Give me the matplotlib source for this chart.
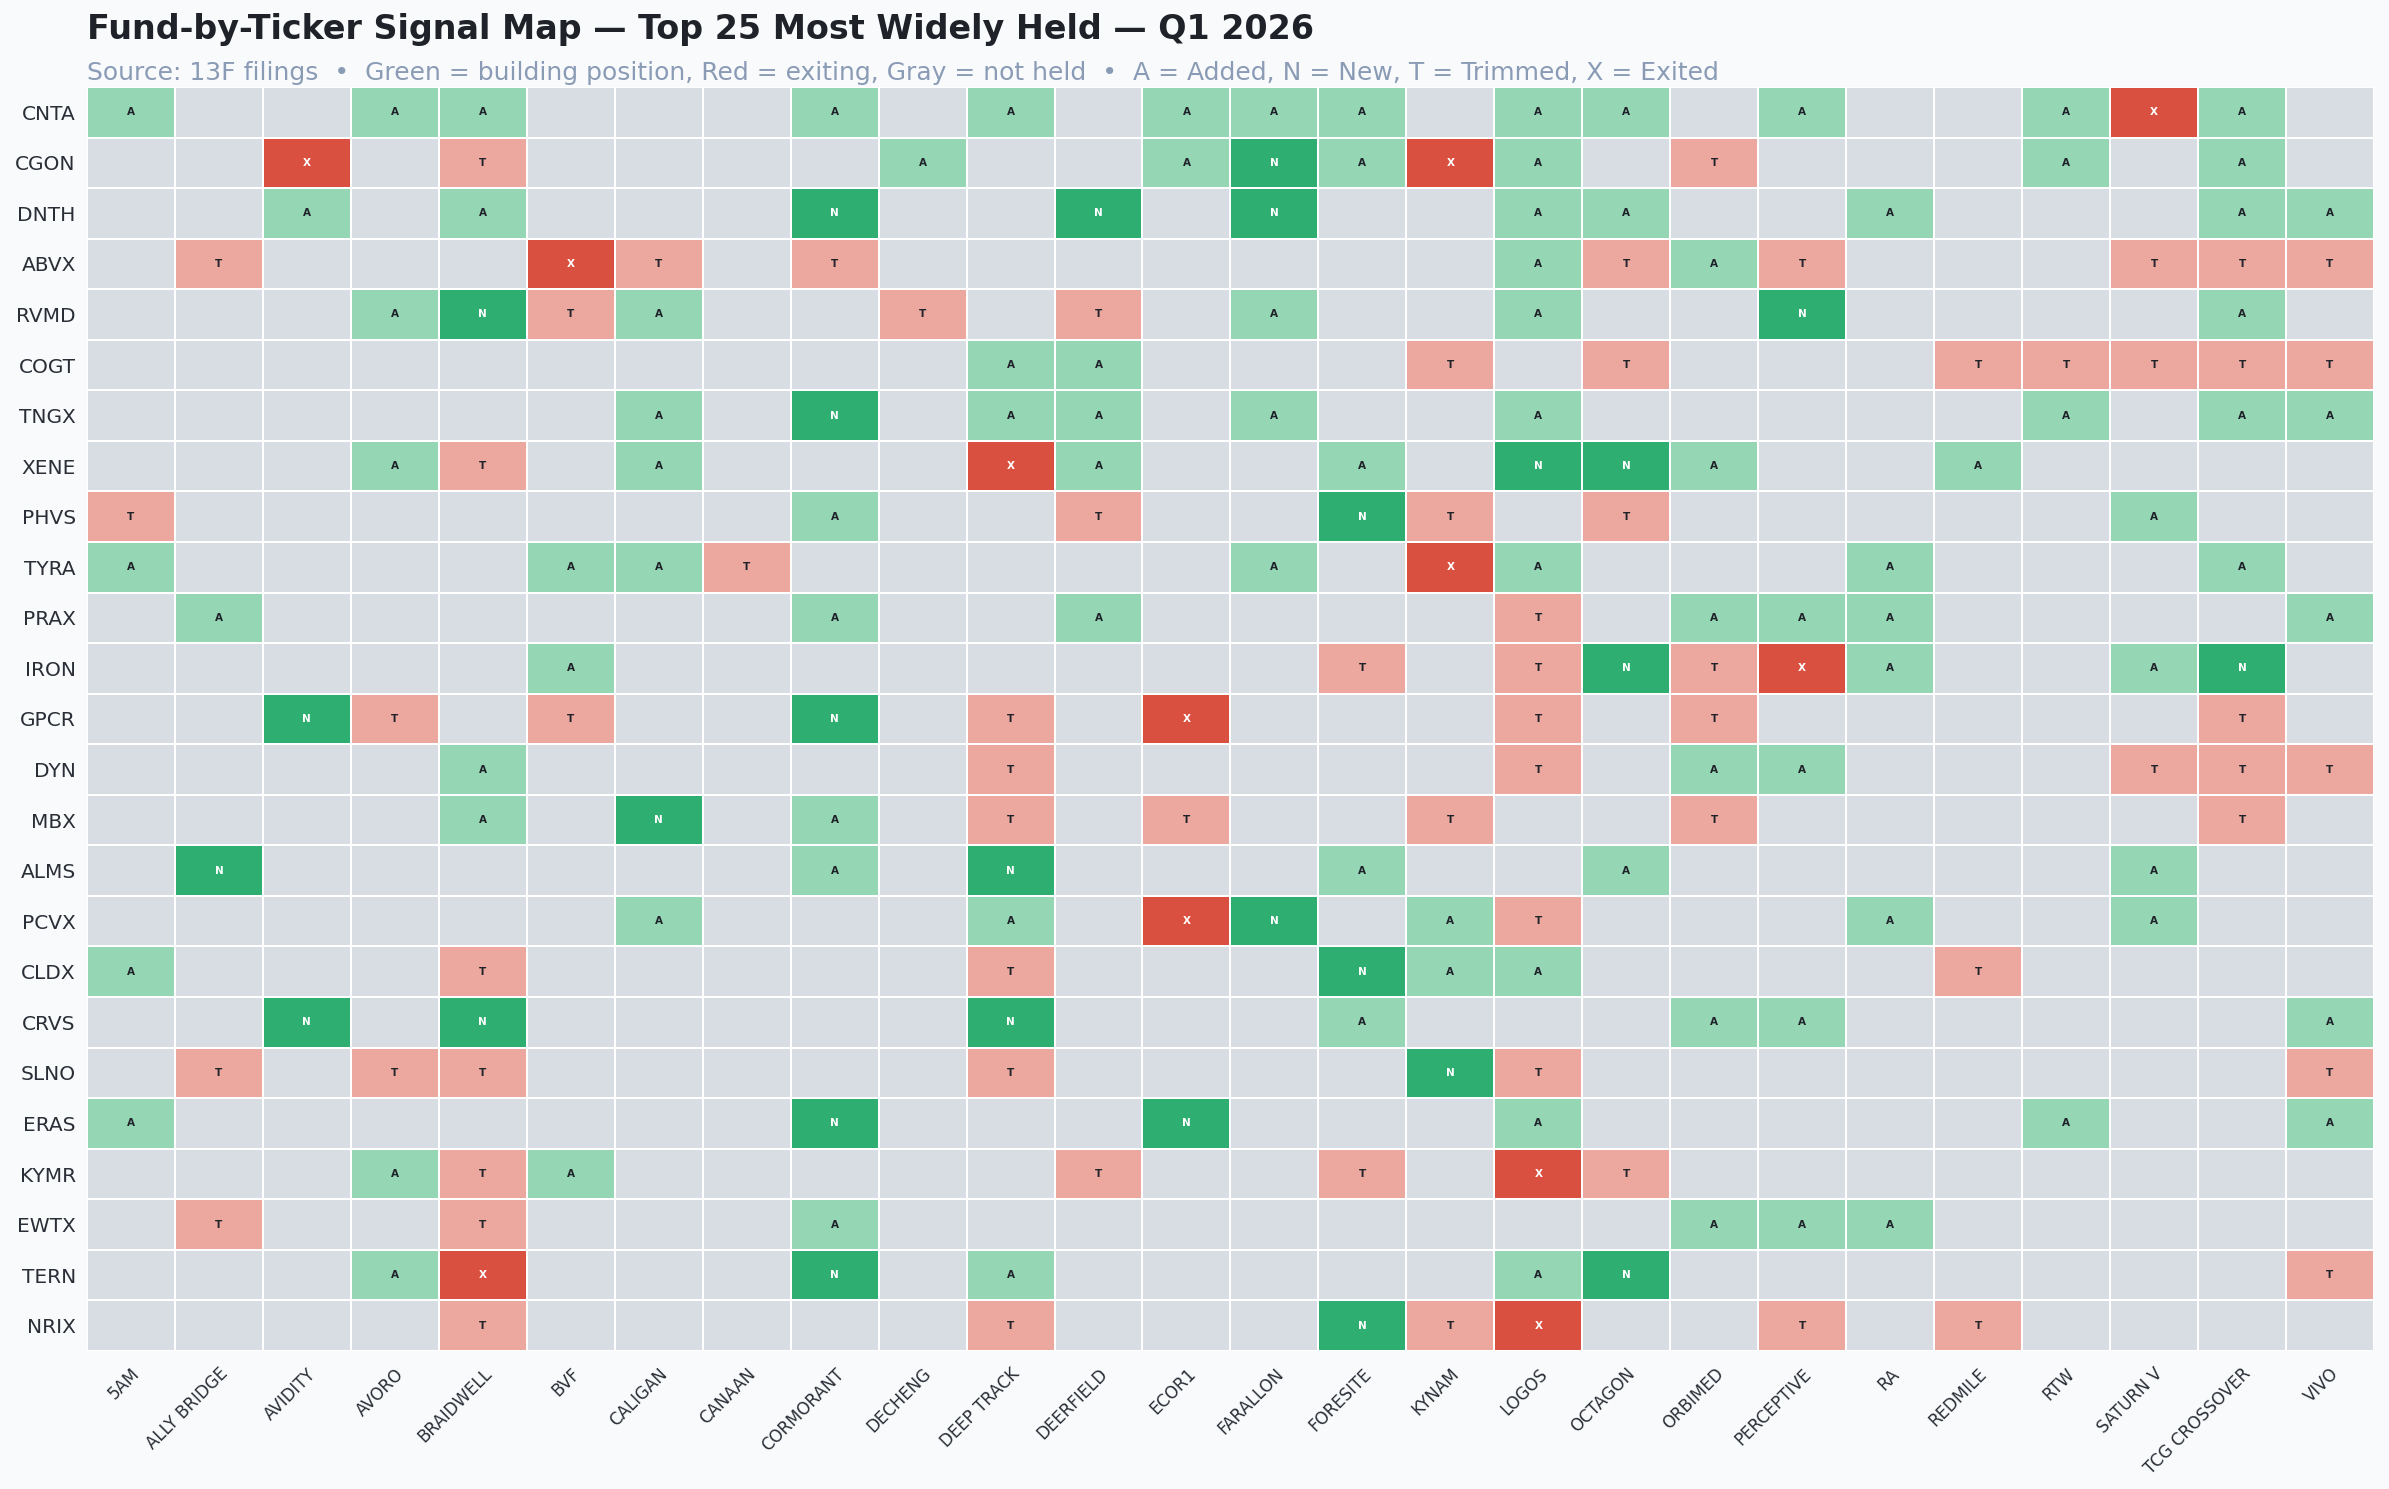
import matplotlib
matplotlib.use("Agg")
import matplotlib.pyplot as plt
from matplotlib.colors import ListedColormap, BoundaryNorm
import numpy as np

funds = ["5AM", "ALLY BRIDGE", "AVIDITY", "AVORO", "BRAIDWELL", "BVF", "CALIGAN",
         "CANAAN", "CORMORANT", "DECHENG", "DEEP TRACK", "DEERFIELD", "ECOR1",
         "FARALLON", "FORESITE", "KYNAM", "LOGOS", "OCTAGON", "ORBIMED",
         "PERCEPTIVE", "RA", "REDMILE", "RTW", "SATURN V", "TCG CROSSOVER", "VIVO"]

tickers = ["CNTA", "CGON", "DNTH", "ABVX", "RVMD", "COGT", "TNGX", "XENE", "PHVS",
           "TYRA", "PRAX", "IRON", "GPCR", "DYN", "MBX", "ALMS", "PCVX", "CLDX",
           "CRVS", "SLNO", "ERAS", "KYMR", "EWTX", "TERN", "NRIX"]

# one string per ticker, one char per fund: A=Added N=New T=Trimmed X=Exited .=not held
signals = [
    "A..AA" "...A." "A.AAA" ".AA.A" "..AXA" ".",
    "..X.T" "....A" "..ANA" "XA.T." "..A.A" ".",
    "..A.A" "...N." ".N.N." ".AA.." "A...A" "A",
    ".T..." "XT.T." "....." ".ATAT" "...TT" "T",
    "...AN" "TA..T" ".T.A." ".A..N" "....A" ".",
    "....." "....." "AA..." "T.T.." ".TTTT" "T",
    "....." ".A.N." "AA.A." ".A..." "..A.A" "A",
    "...AT" ".A..." "XA..A" ".NNA." ".A..." ".",
    "T...." "...A." ".T..N" "T.T.." "...A." ".",
    "A...." "AAT.." "...A." "XA..." "A...A" ".",
    ".A..." "...A." ".A..." ".T.AA" "A...." "A",
    "....." "A...." "....T" ".TNTX" "A..AN" ".",
    "..NT." "T..N." "T.X.." ".T.T." "....T" ".",
    "....A" "....." "T...." ".T.AA" "...TT" "T",
    "....A" ".N.A." "T.T.." "T..T." "....T" ".",
    ".N..." "...A." "N...A" "..A.." "...A." ".",
    "....." ".A..." "A.XN." "AT..." "A..A." ".",
    "A...T" "....." "T...N" "AA..." ".T..." ".",
    "..N.N" "....." "N...A" "...AA" "....." "A",
    ".T.TT" "....." "T...." "NT..." "....." "T",
    "A...." "...N." "..N.." ".A..." "..A.." "A",
    "...AT" "A...." ".T..T" ".XT.." "....." ".",
    ".T..T" "...A." "....." "...AA" "A...." ".",
    "...AX" "...N." "A...." ".AN.." "....." "T",
    "....T" "....." "T...N" "TX..T" ".T..." ".",
]

codes = ".ANTX"
colors = ["#d8dce3", "#95d6b5", "#2eae70", "#eca89e", "#d94f40"]

grid = np.array([[codes.index(c) for c in row] for row in signals])

fig = plt.figure(figsize=(23.89, 14.89), dpi=100, facecolor="#f9fafc")
ax = fig.add_axes([0.0364, 0.0927, 0.9573, 0.8489])
ax.set_facecolor("#f9fafc")

cmap = ListedColormap(colors)
norm = BoundaryNorm(np.arange(-0.5, 5.5, 1), cmap.N)
ax.pcolormesh(grid, cmap=cmap, norm=norm, edgecolors="white", linewidth=1.2)

for i, row in enumerate(signals):
    for j, c in enumerate(row):
        if c != ".":
            ax.text(j + 0.5, i + 0.5, c, ha="center", va="center", fontsize=7.5,
                    fontweight="bold", color="white" if c in "NX" else "#1f2229")

ax.set_xlim(0, len(funds))
ax.set_ylim(len(tickers), 0)
ax.set_xticks(np.arange(len(funds)) + 0.5)
ax.set_xticklabels(funds, rotation=45, ha="right", rotation_mode="anchor",
                   fontsize=12, color="#2a2e36")
ax.set_yticks(np.arange(len(tickers)) + 0.5)
ax.set_yticklabels(tickers, fontsize=14.5, color="#2a2e36")
ax.tick_params(length=0)
ax.tick_params(axis="x", pad=10)
ax.tick_params(axis="y", pad=8)
for s in ax.spines.values():
    s.set_visible(False)

fig.text(0.0364, 0.980, "Fund-by-Ticker Signal Map \u2014 Top 25 Most Widely Held \u2014 Q1 2026",
         fontsize=24, fontweight="bold", color="#1f2229", ha="left", va="center")
fig.text(0.0364, 0.951,
         "Source: 13F filings  \u2022  Green = building position, Red = exiting, Gray = not held  \u2022  "
         "A = Added, N = New, T = Trimmed, X = Exited",
         fontsize=18, color="#8a9bb5", ha="left", va="center")

fig.savefig("out.png", dpi=100, facecolor=fig.get_facecolor())
